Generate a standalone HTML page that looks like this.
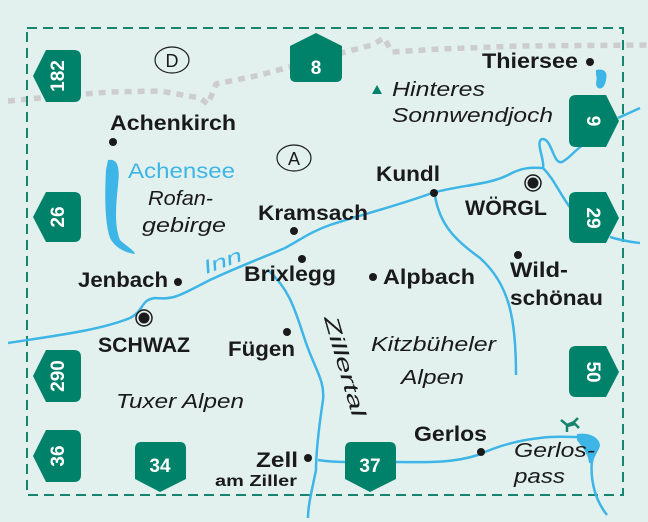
<!DOCTYPE html>
<html><head><meta charset="utf-8"><style>
html,body{margin:0;padding:0;background:#e3f1ee;}
svg{display:block}
text{font-family:"Liberation Sans",sans-serif;}
.b{font-weight:bold;font-size:21px;fill:#1a1a1a;}
.i{font-style:italic;font-size:20px;fill:#1a1a1a;}
.w{font-weight:bold;font-size:19px;fill:#fff;}
</style></head><body>
<svg width="648" height="522" viewBox="0 0 648 522">
<rect width="648" height="522" fill="#e3f1ee"/>
<!-- border -->
<polyline points="8,101 60,96 110,92 160,91 200,98 208,104 216,84 260,75 330,56 372,45 384,38 392,52 440,49 520,46 648,45" fill="none" stroke="#cdcdcd" stroke-width="5.5" stroke-dasharray="7,6"/>
<rect x="27" y="28" width="596" height="467" fill="none" stroke="#17856d" stroke-width="2" stroke-dasharray="10,6"/>
<!-- rivers -->
<g fill="none" stroke="#3db5e6" stroke-width="2.5">
<path d="M8,343 C60,335 100,330 130,318 C145,310 140,300 155,298 C175,300 180,295 210,280 C240,266 262,258 285,248 C300,240 310,232 330,225 C360,215 400,205 432,193 C460,185 490,185 510,174 C525,166 535,168 543,168 C545,160 535,142 542,139 C552,138 553,165 562,162 C570,158 575,150 583,145"/>
<path d="M618,118 L640,108"/>
<path d="M543,168 C555,180 560,195 572,210"/>
<path d="M610,237 C620,240 630,242 640,243"/>
<path d="M435,196 C440,225 455,240 480,258 C510,285 516,320 516,375"/>
<path d="M268,270 C290,290 295,310 305,340 C315,370 325,380 323,400 C320,420 316,450 316,470 C312,490 308,505 308,518"/>
<path d="M318,460 C330,462 340,462 348,462"/>
<path d="M396,462 C420,462 450,464 478,455 C500,445 520,440 540,438 C555,436 565,437 578,437"/>
<path d="M592,460 C590,480 595,500 607,515"/>
</g>
<path d="M577,434 C590,432 600,438 600,446 C598,452 594,456 593,463 L589,463 C588,452 580,445 577,440Z" fill="#3db5e6"/>
<path d="M108,160 C118,158 120,168 118,185 C116,205 114,225 120,240 C126,246 134,250 135,254 C126,253 115,248 110,238 C104,220 105,190 106,170Z" fill="#3db5e6"/>
<path d="M596,70 C604,68 608,72 606,80 C605,86 602,90 598,88 C594,84 598,80 596,75Z" fill="#3db5e6"/>
<!-- pass symbol -->
<path d="M561,420 L567,425 L574,422 L578,418 M567,432 L567,426 L575,424 L579,428" fill="none" stroke="#17856d" stroke-width="2.5"/>
<!-- badges -->
<g fill="#00826a">
<path d="M33,76 L46,50 H74 Q81,50 81,57 V95 Q81,102 74,102 H46Z"/>
<path d="M33,217 L46,192 H74 Q81,192 81,199 V235 Q81,242 74,242 H46Z"/>
<path d="M33,376 L46,350 H74 Q81,350 81,357 V395 Q81,402 74,402 H46Z"/>
<path d="M33,456 L46,430 H74 Q81,430 81,437 V475 Q81,482 74,482 H46Z"/>
<path d="M619,121 L606,95 H576 Q569,95 569,102 V140 Q569,147 576,147 H606Z"/>
<path d="M619,218 L606,192 H576 Q569,192 569,199 V236 Q569,243 576,243 H606Z"/>
<path d="M619,372 L606,346 H576 Q569,346 569,353 V390 Q569,397 576,397 H606Z"/>
<path d="M316,33 L342,46 V76 Q342,82 336,82 H296 Q290,82 290,76 V46Z"/>
<path d="M160,492 L186,479 V449 Q186,442 180,442 H141 Q135,442 135,449 V479Z"/>
<path d="M370,492 L396,479 V449 Q396,442 390,442 H351 Q345,442 345,449 V479Z"/>
</g>
<text class="w" transform="translate(64,76) rotate(-90)" text-anchor="middle">182</text>
<text class="w" transform="translate(64,217) rotate(-90)" text-anchor="middle">26</text>
<text class="w" transform="translate(64,376) rotate(-90)" text-anchor="middle">290</text>
<text class="w" transform="translate(64,456) rotate(-90)" text-anchor="middle">36</text>
<text class="w" transform="translate(587,121) rotate(90)" text-anchor="middle">9</text>
<text class="w" transform="translate(587,218) rotate(90)" text-anchor="middle">29</text>
<text class="w" transform="translate(587,372) rotate(90)" text-anchor="middle">50</text>
<text class="w" x="316" y="74" text-anchor="middle">8</text>
<text class="w" x="160" y="472" text-anchor="middle">34</text>
<text class="w" x="370" y="472" text-anchor="middle">37</text>
<!-- country -->
<ellipse cx="172" cy="60" rx="17" ry="13" fill="none" stroke="#1a1a1a" stroke-width="1.2"/>
<text x="172" y="67" text-anchor="middle" font-size="18" fill="#1a1a1a">D</text>
<ellipse cx="294" cy="158" rx="17" ry="13" fill="none" stroke="#1a1a1a" stroke-width="1.2"/>
<text x="294" y="165" text-anchor="middle" font-size="18" fill="#1a1a1a">A</text>
<!-- dots -->
<g fill="#1a1a1a">
<circle cx="113" cy="142" r="4"/><circle cx="590" cy="62" r="4"/><circle cx="434" cy="193" r="4"/>
<circle cx="294" cy="231" r="4"/><circle cx="178" cy="282" r="4"/><circle cx="302" cy="259" r="4"/>
<circle cx="373" cy="277" r="4"/><circle cx="518" cy="255" r="4"/><circle cx="287" cy="332" r="4"/>
<circle cx="308" cy="458" r="4"/><circle cx="481" cy="452" r="4"/>
<circle cx="533" cy="183" r="5.5"/><circle cx="144" cy="318" r="5.5"/>
</g>
<circle cx="533" cy="183" r="8" fill="none" stroke="#1a1a1a" stroke-width="1.5"/>
<circle cx="144" cy="318" r="8" fill="none" stroke="#1a1a1a" stroke-width="1.5"/>
<path d="M377,85 L382,94 H372Z" fill="#00826a"/>
<!-- labels -->
<text class="b" x="110" y="130" textLength="126" lengthAdjust="spacingAndGlyphs">Achenkirch</text>
<text x="128" y="178" font-size="21" fill="#3db5e6" textLength="107" lengthAdjust="spacingAndGlyphs">Achensee</text>
<text class="i" x="148" y="205" textLength="65" lengthAdjust="spacingAndGlyphs">Rofan-</text>
<text class="i" x="142" y="232" textLength="84" lengthAdjust="spacingAndGlyphs">gebirge</text>
<text class="b" x="482" y="68" textLength="96" lengthAdjust="spacingAndGlyphs">Thiersee</text>
<text class="i" x="392" y="96" textLength="93" lengthAdjust="spacingAndGlyphs">Hinteres</text>
<text class="i" x="392" y="122" textLength="161" lengthAdjust="spacingAndGlyphs">Sonnwendjoch</text>
<text class="b" x="376" y="181" textLength="64" lengthAdjust="spacingAndGlyphs">Kundl</text>
<text class="b" x="465" y="215" textLength="82" lengthAdjust="spacingAndGlyphs">WÖRGL</text>
<text class="b" x="258" y="220" textLength="110" lengthAdjust="spacingAndGlyphs">Kramsach</text>
<text transform="translate(206,274) rotate(-20)" font-size="19" font-style="italic" fill="#3db5e6" textLength="40" lengthAdjust="spacingAndGlyphs">Inn</text>
<text class="b" x="78" y="287" textLength="90" lengthAdjust="spacingAndGlyphs">Jenbach</text>
<text class="b" x="244" y="281" textLength="92" lengthAdjust="spacingAndGlyphs">Brixlegg</text>
<text class="b" x="383" y="284" textLength="92" lengthAdjust="spacingAndGlyphs">Alpbach</text>
<text class="b" x="510" y="277" textLength="58" lengthAdjust="spacingAndGlyphs">Wild-</text>
<text class="b" x="510" y="305" textLength="93" lengthAdjust="spacingAndGlyphs">schönau</text>
<text class="b" x="98" y="352" textLength="92" lengthAdjust="spacingAndGlyphs">SCHWAZ</text>
<text class="b" x="228" y="356" textLength="67" lengthAdjust="spacingAndGlyphs">Fügen</text>
<text class="i" transform="translate(324,318) rotate(74)" textLength="104" lengthAdjust="spacingAndGlyphs">Zillertal</text>
<text class="i" x="371" y="351" textLength="125" lengthAdjust="spacingAndGlyphs">Kitzbüheler</text>
<text class="i" x="401" y="384" textLength="63" lengthAdjust="spacingAndGlyphs">Alpen</text>
<text class="i" x="116" y="408" textLength="128" lengthAdjust="spacingAndGlyphs">Tuxer Alpen</text>
<text class="b" x="256" y="467" textLength="42" lengthAdjust="spacingAndGlyphs">Zell</text>
<text x="215" y="486" font-size="16" font-weight="bold" fill="#1a1a1a" textLength="82" lengthAdjust="spacingAndGlyphs">am Ziller</text>
<text class="b" x="414" y="441" textLength="73" lengthAdjust="spacingAndGlyphs">Gerlos</text>
<text class="i" x="514" y="457" textLength="81" lengthAdjust="spacingAndGlyphs">Gerlos-</text>
<text class="i" x="514" y="483" textLength="51" lengthAdjust="spacingAndGlyphs">pass</text>
</svg>
</body></html>
